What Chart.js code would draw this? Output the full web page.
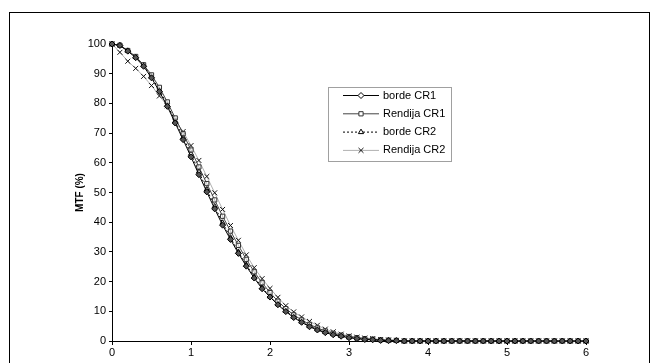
<!DOCTYPE html>
<html>
<head>
<meta charset="utf-8">
<script src="https://cdn.jsdelivr.net/npm/chart.js@4/dist/chart.umd.min.js"></script>
<style>
  html, body { margin: 0; padding: 0; background: #fff; }
  #wrap { position: relative; width: 654px; height: 363px; overflow: hidden; }
  #frame { position: absolute; left: 9px; top: 12px; width: 641px; height: 400px; border: 1px solid #000; box-sizing: border-box; }
  canvas { position: absolute; left: 0; top: 0; }
</style>
</head>
<body>
<div id="wrap">
  <div id="frame"></div>
  <canvas id="c" width="654" height="363"></canvas>
</div>
<script>
const frequencies = [0.0,0.1,0.2,0.3,0.4,0.5,0.6,0.7,0.8,0.9,1.0,1.1,1.2,1.3,1.4,1.5,1.6,1.7,1.8,1.9,2.0,2.1,2.2,2.3,2.4,2.5,2.6,2.7,2.8,2.9,3.0,3.1,3.2,3.3,3.4,3.5,3.6,3.7,3.8,3.9,4.0,4.1,4.2,4.3,4.4,4.5,4.6,4.7,4.8,4.9,5.0,5.1,5.2,5.3,5.4,5.5,5.6,5.7,5.8,5.9,6.0];

const bordeCR1 = [100,99.5,97.6,95.4,92.5,88.6,84.0,79.0,73.4,67.8,62.0,56.0,50.2,44.5,39.0,34.2,29.5,25.2,21.2,17.6,14.8,12.2,9.9,7.9,6.3,4.8,3.7,2.8,2.1,1.6,1.1,0.8,0.5,0.4,0.2,0.1,0.1,0,0,0,0,0,0,0,0,0,0,0,0,0,0,0,0,0,0,0,0,0,0,0,0];
const rendijaCR1 = [100,99.6,97.8,95.8,93.0,89.6,85.4,80.5,75.1,69.8,64.3,58.6,53.0,47.5,42.0,37.0,32.2,27.5,23.3,19.6,16.3,13.4,10.9,8.8,7.1,5.6,4.4,3.4,2.6,2.0,1.5,1.1,0.8,0.6,0.4,0.3,0.2,0,0,0,0,0,0,0,0,0,0,0,0,0,0,0,0,0,0,0,0,0,0,0,0];
const bordeCR2 = [100,99.5,97.7,95.6,92.8,89.0,84.5,79.5,74.0,68.5,63.0,57.0,51.0,45.3,39.8,34.8,30.0,25.6,21.6,18.0,15.0,12.4,10.1,8.1,6.5,5.0,3.9,3.0,2.3,1.7,1.2,0.9,0.6,0.4,0.3,0.2,0.1,0,0,0,0,0,0,0,0,0,0,0,0,0,0,0,0,0,0,0,0,0,0,0,0];
const rendijaCR2 = [100,97.2,94.2,91.8,89.1,86.0,82.5,79.2,74.3,70.5,65.8,60.8,55.4,49.9,44.3,38.9,33.9,29.0,24.7,21.0,17.7,14.7,11.9,9.8,8.1,6.6,5.3,4.0,3.1,2.3,1.7,1.3,1.0,0.8,0.5,0.3,0.2,0,0,0,0,0,0,0,0,0,0,0,0,0,0,0,0,0,0,0,0,0,0,0,0];

const seriesLabels = ['borde CR1','Rendija CR1','borde CR2','Rendija CR2'];
const xTicks = [0,1,2,3,4,5,6];
const yTicks = [0,10,20,30,40,50,60,70,80,90,100];
const yTitle = 'MTF (%)';

const FONT = '"Liberation Sans", Arial, sans-serif';
const pts = vals => frequencies.map((f, i) => ({x: f, y: vals[i]}));

const legendPlugin = {
  id: 'boxLegend',
  afterDraw(chart) {
    const ctx = chart.ctx;
    const bx = 328, by = 87, bw = 123, bh = 74;
    ctx.save();
    ctx.fillStyle = '#fff';
    ctx.fillRect(bx, by, bw, bh);
    ctx.strokeStyle = '#a0a0a0';
    ctx.lineWidth = 1;
    ctx.strokeRect(bx + 0.5, by + 0.5, bw, bh);
    chart.data.datasets.forEach((ds, i) => {
      const y = 95.5 + i * 18.3;
      ctx.strokeStyle = ds.borderColor;
      ctx.lineWidth = ds.borderWidth;
      ctx.setLineDash(ds.borderDash || []);
      ctx.beginPath(); ctx.moveTo(343, y); ctx.lineTo(379, y); ctx.stroke();
      ctx.setLineDash([]);
      ctx.fillStyle = '#fff';
      ctx.strokeStyle = ds.pointBorderColor;
      ctx.lineWidth = 1;
      Chart.helpers.drawPoint(ctx, {pointStyle: ds.pointStyle, radius: ds.pointRadius, borderWidth: 1, rotation: 0}, 361, y);
      ctx.fillStyle = '#000';
      ctx.font = '11px ' + FONT;
      ctx.textBaseline = 'middle';
      ctx.textAlign = 'left';
      ctx.fillText(ds.label, 383, y);
    });
    ctx.restore();
  }
};

new Chart(document.getElementById('c'), {
  type: 'line',
  data: {
    datasets: [
      { label: seriesLabels[0], data: pts(bordeCR1), borderColor: '#000', borderWidth: 1, pointStyle: 'rectRot', pointRadius: 3, pointBorderColor: '#000', pointBackgroundColor: '#555', pointBorderWidth: 1, tension: 0 },
      { label: seriesLabels[1], data: pts(rendijaCR1), borderColor: '#444', borderWidth: 1, pointStyle: 'rect', pointRadius: 3, pointBorderColor: '#333', pointBackgroundColor: 'rgba(255,255,255,0.6)', pointBorderWidth: 1, tension: 0 },
      { label: seriesLabels[2], data: pts(bordeCR2), borderColor: '#000', borderWidth: 1, borderDash: [2, 2], pointStyle: 'triangle', pointRadius: 3, pointBorderColor: '#000', pointBackgroundColor: 'rgba(255,255,255,0.4)', pointBorderWidth: 1, tension: 0 },
      { label: seriesLabels[3], data: pts(rendijaCR2), borderColor: '#b0b0b0', borderWidth: 1, pointStyle: 'crossRot', pointRadius: 3.5, pointBorderColor: '#111', pointBackgroundColor: '#111', pointBorderWidth: 1, tension: 0 }
    ]
  },
  options: {
    responsive: false,
    animation: false,
    clip: false,
    layout: { padding: { left: 70, top: 44, right: 68, bottom: 0 } },
    plugins: { legend: { display: false }, tooltip: { enabled: false } },
    elements: { point: { hoverRadius: 3 } },
    scales: {
      x: {
        type: 'linear', min: 0, max: 6,
        afterBuildTicks: s => { s.ticks = xTicks.map(v => ({value: v})); },
        afterFit: s => { s.height = 22; },
        border: { display: true, color: '#000', width: 1 },
        grid: { display: true, drawOnChartArea: false, drawTicks: true, tickLength: 4, color: '#000' },
        ticks: { color: '#000', font: { family: FONT, size: 11 }, padding: 1, maxRotation: 0 }
      },
      y: {
        type: 'linear', min: 0, max: 100,
        afterBuildTicks: s => { s.ticks = yTicks.map(v => ({value: v})); },
        afterFit: s => { s.width = 42; },
        border: { display: true, color: '#000', width: 1 },
        grid: { display: true, drawOnChartArea: false, drawTicks: true, tickLength: 3, color: '#000' },
        ticks: { color: '#000', font: { family: FONT, size: 11 }, padding: 3 },
        title: { display: true, text: yTitle, color: '#000', font: { family: FONT, size: 10, weight: 'bold' }, padding: { top: 4, bottom: 0 } }
      }
    }
  },
  plugins: [legendPlugin]
});
</script>
</body>
</html>
